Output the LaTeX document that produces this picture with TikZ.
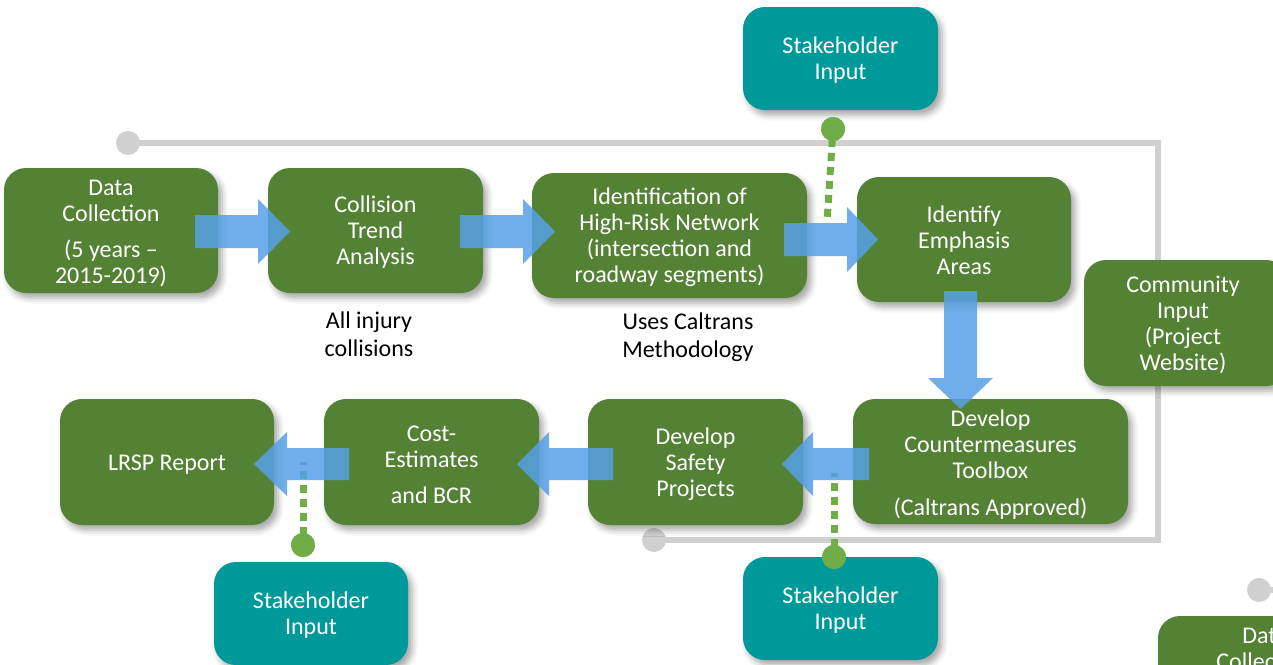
\documentclass[tikz,border=0pt]{standalone}
\usepackage{fontspec}
\setmainfont{Carlito}
\usetikzlibrary{shadows.blur}
\definecolor{boxgreen}{HTML}{548235}
\definecolor{boxteal}{HTML}{009999}
\definecolor{linegray}{HTML}{D0D0D0}
\definecolor{dotgreen}{HTML}{70AD47}
\definecolor{arrowblue}{HTML}{56A0E6}
\tikzset{
  boxshadow/.style={blur shadow={shadow xshift=4pt, shadow yshift=-5pt, shadow blur radius=6pt, shadow opacity=35}},
  greenbox/.style={rectangle, rounded corners=22pt, fill=boxgreen, minimum height=125pt, inner sep=0pt, boxshadow},
  tealbox/.style={greenbox, fill=boxteal, minimum width=195pt, minimum height=103pt},
  boxtext/.style={text=white, align=center, inner sep=0pt, font=\fontsize{24}{26}\selectfont},
  lbl/.style={align=center, text=black, font=\fontsize{24}{28}\selectfont},
  grayline/.style={draw=linegray, line width=6pt},
  graydot/.style={circle, fill=linegray, minimum size=24pt, inner sep=0pt},
  greendot/.style={circle, fill=dotgreen, minimum size=24pt, inner sep=0pt},
  dotline/.style={draw=dotgreen, line width=7pt, dash pattern=on 8pt off 6pt},
  flowarrow/.style={fill=arrowblue, fill opacity=0.85, draw=none}
}
\begin{document}
\begin{tikzpicture}[x=1pt,y=-1pt]
\useasboundingbox (0,0) rectangle (1273,664);
\clip (0,0) rectangle (1273,664);

% gray feedback line
\node[graydot] (g1) at (128,143) {};
\node[graydot] (g2) at (654,540) {};
\coordinate (gtr) at (1158,143);
\coordinate (gbr) at (1158,540);
\draw[grayline] (g1.center) -- (gtr) -- (gbr) -- (g2.center);
\node[graydot] (g3) at (1259,590) {};
\coordinate (g3r) at (1290,590);
\draw[grayline] (g3.center) -- (g3r);

% process boxes
\node[greenbox, minimum width=214pt] (data) at (111,230.5) {};
\node[boxtext] (data-t) at ([yshift=-3pt]data.center) {Data\\Collection\\[10pt](5 years –\\2015-2019)};
\node[greenbox, minimum width=215pt] (trend) at (375.5,230.5) {};
\node[boxtext] (trend-t) at ([yshift=-2pt]trend.center) {Collision\\Trend\\Analysis};
\node[greenbox, minimum width=275pt] (hrn) at (669.5,235.5) {};
\node[boxtext] (hrn-t) at ([yshift=-2pt]hrn.center) {Identification of\\High-Risk Network\\(intersection and\\roadway segments)};
\node[greenbox, minimum width=214pt] (emph) at (964,239.5) {};
\node[boxtext] (emph-t) at ([yshift=-1pt]emph.center) {Identify\\Emphasis\\Areas};
\node[greenbox, minimum width=204pt, minimum height=126pt] (comm) at (1186,323) {};
\node[boxtext] (comm-t) at (1183,325) {Community\\Input\\(Project\\Website)};
\node[greenbox, minimum width=275pt] (cm) at (990.5,461.5) {};
\node[boxtext] (cm-t) at ([yshift=-3pt]cm.center) {Develop\\Countermeasures\\Toolbox\\[11pt](Caltrans Approved)};
\node[greenbox, minimum width=215pt, minimum height=126pt] (sp) at (695.5,462) {};
\node[boxtext] (sp-t) at ([yshift=-2pt]sp.center) {Develop\\Safety\\Projects};
\node[greenbox, minimum width=215pt, minimum height=126pt] (cost) at (431.5,462) {};
\node[boxtext] (cost-t) at ([yshift=-3pt]cost.center) {Cost-\\Estimates\\[10pt]and BCR};
\node[greenbox, minimum width=214pt, minimum height=126pt] (lrsp) at (167,462) {};
\node[boxtext] (lrsp-t) at ([yshift=-3pt]lrsp.center) {LRSP Report};
\node[greenbox, minimum width=214pt] (data2) at (1265,678.5) {};
\node[boxtext] (data2-t) at ([yshift=-3pt]data2.center) {Data\\Collection\\[10pt](5 years –\\2015-2019)};

% stakeholder boxes
\node[tealbox] (sh1) at (840.5,58.5) {};
\node[boxtext] (sh1-t) at ([yshift=-2pt]sh1.center) {Stakeholder\\Input};
\node[tealbox, minimum width=194pt] (sh2) at (311,613.5) {};
\node[boxtext] (sh2-t) at ([yshift=-2pt]sh2.center) {Stakeholder\\Input};
\node[tealbox] (sh3) at (840.5,608.5) {};
\node[boxtext] (sh3-t) at ([yshift=-2pt]sh3.center) {Stakeholder\\Input};

% labels
\node[lbl] (l1) at (369,334.5) {All injury\\collisions};
\node[lbl] (l2) at (688,337) {Uses Caltrans\\Methodology};

% dotted connectors
\node[greendot] (d1) at (833,129) {};
\coordinate (d1e) at (827,222);
\draw[dotline, dash phase=-10pt] (d1.center) -- (d1e);
\node[greendot] (d2) at (303,545) {};
\coordinate (d2e) at (303,462);
\draw[dotline, dash phase=-10pt] (d2.center) -- (d2e);
\node[greendot] (d3) at (834,557) {};
\coordinate (d3e) at (834,473);
\draw[dotline, dash phase=-10pt] (d3.center) -- (d3e);
\node[greendot] at (d1) {};
\node[greendot] at (d2) {};
\node[greendot] at (d3) {};

% block arrows
\fill[flowarrow] (195,215) -- (258,215) -- (258,199) -- (290,231.5) -- (258,264) -- (258,248) -- (195,248) -- cycle;
\fill[flowarrow] (460,215) -- (523,215) -- (523,199) -- (555,231.5) -- (523,264) -- (523,248) -- (460,248) -- cycle;
\fill[flowarrow] (784,223) -- (847,223) -- (847,207) -- (878,239.5) -- (847,272) -- (847,256) -- (784,256) -- cycle;
\fill[flowarrow] (944,291) -- (977,291) -- (977,378) -- (993,378) -- (960.5,409) -- (928,378) -- (944,378) -- cycle;
\fill[flowarrow] (869,448) -- (813,448) -- (813,432) -- (782,464) -- (813,496) -- (813,480) -- (869,480) -- cycle;
\fill[flowarrow] (613,448) -- (549,448) -- (549,432) -- (517,464) -- (549,496) -- (549,480) -- (613,480) -- cycle;
\fill[flowarrow] (349,448) -- (287,448) -- (287,432) -- (254,464) -- (287,496) -- (287,480) -- (349,480) -- cycle;
\end{tikzpicture}
\end{document}
